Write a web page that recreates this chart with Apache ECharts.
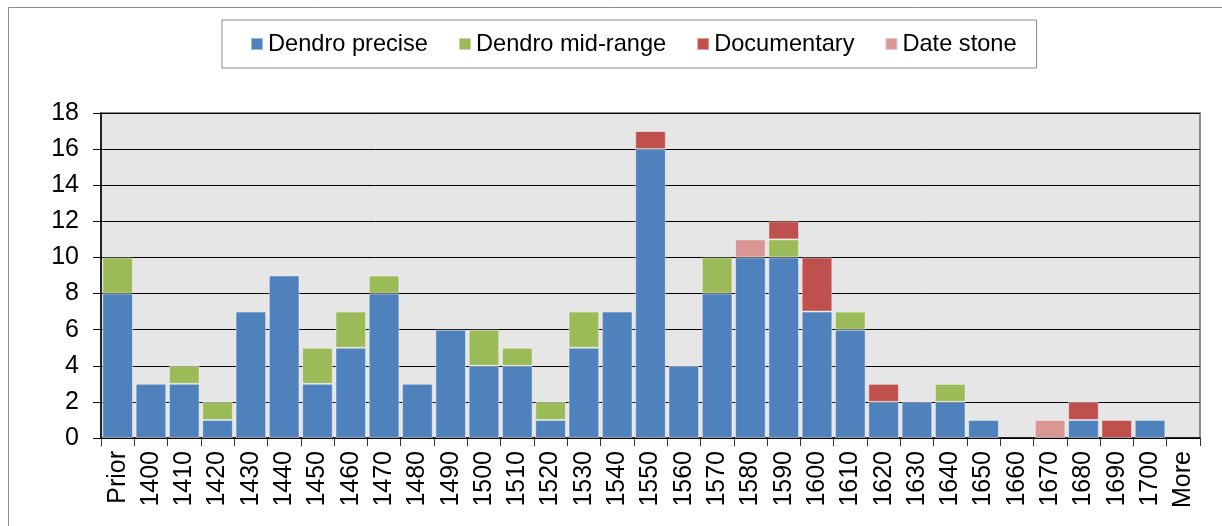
<!DOCTYPE html>
<html>
<head>
<meta charset="utf-8">
<script src="https://cdn.jsdelivr.net/npm/echarts@6/dist/echarts.min.js"></script>
<style>
  html, body { margin: 0; padding: 0; background: #fff; }
  #chart { width: 1222px; height: 526px; }
</style>
</head>
<body>
<div id="chart"></div>
<script>
const categories = ['Prior', '1400', '1410', '1420', '1430', '1440', '1450', '1460', '1470', '1480',
  '1490', '1500', '1510', '1520', '1530', '1540', '1550', '1560', '1570', '1580', '1590',
  '1600', '1610', '1620', '1630', '1640', '1650', '1660', '1670', '1680', '1690', '1700', 'More']

const dendroPrecise = [8, 3, 3, 1, 7, 9, 3, 5, 8, 3, 6, 4, 4, 1, 5, 7, 16, 4, 8, 10, 10, 7, 6, 2, 2, 2, 1, 0, 0, 1, 0, 1, 0]
const dendroMid = [2, 0, 1, 1, 0, 0, 2, 2, 1, 0, 0, 2, 1, 1, 2, 0, 0, 0, 2, 0, 1, 0, 1, 0, 0, 1, 0, 0, 0, 0, 0, 0, 0]
const documentary = [0, 0, 0, 0, 0, 0, 0, 0, 0, 0, 0, 0, 0, 0, 0, 0, 1, 0, 0, 0, 1, 3, 0, 1, 0, 0, 0, 0, 0, 1, 1, 0, 0]
const dateStone = [0, 0, 0, 0, 0, 0, 0, 0, 0, 0, 0, 0, 0, 0, 0, 0, 0, 0, 0, 1, 0, 0, 0, 0, 0, 0, 0, 0, 1, 0, 0, 0, 0]

const yTicks = [0, 2, 4, 6, 8, 10, 12, 14, 16, 18]

const chart = echarts.init(document.getElementById('chart'))
const font = 'Liberation Sans, Arial, sans-serif'

// zero values are left out so they don't draw a flat bar
const clean = arr => arr.map(v => (v === 0 ? '-' : v))

const mkSeries = (name, data, color) => ({
  name,
  type: 'bar',
  stack: 'total',
  data: clean(data),
  barCategoryGap: '8%',
  itemStyle: {
    color,
    borderColor: 'rgba(255,255,255,0.45)',
    borderWidth: 1
  }
})

const option = {
  backgroundColor: '#fff',
  animation: false,
  graphic: [{
    type: 'rect',
    shape: { x: 8.5, y: 7.5, width: 1300, height: 600 },
    style: { fill: 'none', stroke: '#8c8c8c', lineWidth: 1 },
    silent: true
  }],
  legend: {
    left: 222,
    top: 20,
    padding: [12, 20, 12, 28],
    itemGap: 30,
    itemWidth: 12,
    itemHeight: 12,
    icon: 'rect',
    borderColor: '#8c8c8c',
    borderWidth: 1,
    backgroundColor: '#fff',
    textStyle: { fontFamily: font, fontSize: 23.6, color: '#000' },
    data: ['Dendro precise', 'Dendro mid-range', 'Documentary', 'Date stone']
  },
  grid: {
    left: 101,
    right: 22,
    top: 113,
    bottom: 88,
    show: true,
    backgroundColor: '#e6e6e6',
    borderColor: '#8c8c8c',
    borderWidth: 2
  },
  xAxis: {
    type: 'category',
    data: categories,
    axisLine: { lineStyle: { color: '#000', width: 1.5 } },
    axisTick: { show: true, length: 8, lineStyle: { color: '#333' } },
    axisLabel: {
      rotate: 90,
      interval: 0,
      margin: 13,
      fontFamily: font,
      fontSize: 25,
      color: '#000'
    }
  },
  yAxis: {
    type: 'value',
    min: yTicks[0],
    max: yTicks[yTicks.length - 1],
    interval: 2,
    axisLine: { show: true, lineStyle: { color: '#000', width: 1.5 } },
    axisTick: { show: true, length: 8, lineStyle: { color: '#000' } },
    axisLabel: {
      margin: 22,
      fontFamily: font,
      fontSize: 25,
      color: '#000'
    },
    splitLine: { show: true, lineStyle: { color: '#000', width: 1 } }
  },
  series: [
    mkSeries('Dendro precise', dendroPrecise, '#4f81bd'),
    mkSeries('Dendro mid-range', dendroMid, '#9bbb59'),
    mkSeries('Documentary', documentary, '#c0504d'),
    mkSeries('Date stone', dateStone, '#d99694')
  ]
}

chart.setOption(option)
</script>
</body>
</html>
